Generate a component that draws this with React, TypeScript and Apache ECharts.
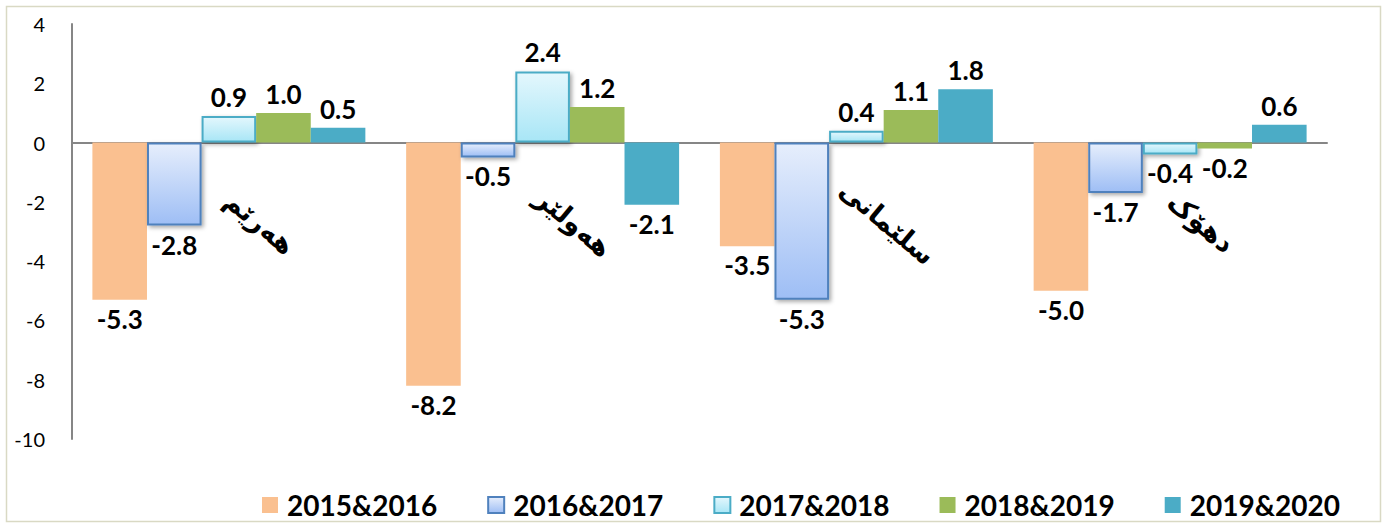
import React, { useEffect, useRef } from "react";
import * as echarts from "echarts";

const categories = ["هەرێم", "هەولێر", "سلێمانی", "دهۆک"];
const seriesNames = ["2015&2016", "2016&2017", "2017&2018", "2018&2019", "2019&2020"];
const v1516 = [-5.3, -8.2, -3.5, -5.0];
const v1617 = [-2.8, -0.5, -5.3, -1.7];
const v1718 = [0.9, 2.4, 0.4, -0.4];
const v1819 = [1.0, 1.2, 1.1, -0.2];
const v1920 = [0.5, -2.1, 1.8, 0.6];
const yMin = -10;
const yMax = 4;
const yStep = 2;

const seriesValues = [v1516, v1617, v1718, v1819, v1920];

const grad = (top: string, bottom: string) =>
  new echarts.graphic.LinearGradient(0, 0, 0, 1, [
    { offset: 0, color: top },
    { offset: 1, color: bottom },
  ]);

const styles: any[] = [
  { color: "#FAC090" },
  {
    color: grad("#E6EEFC", "#9EBEF5"),
    borderColor: "#4F81BD",
    borderWidth: 2,
    shadowColor: "rgba(0,0,0,0.35)",
    shadowBlur: 4,
    shadowOffsetX: 2,
    shadowOffsetY: 2,
  },
  {
    color: grad("#E4F7FD", "#A8E6F6"),
    borderColor: "#4BACC6",
    borderWidth: 2,
    shadowColor: "rgba(0,0,0,0.35)",
    shadowBlur: 4,
    shadowOffsetX: 2,
    shadowOffsetY: 2,
  },
  { color: "#9BBB59" },
  { color: "#4BACC6" },
];

export default function App() {
  const ref = useRef<HTMLDivElement>(null);
  useEffect(() => {
    if (!ref.current) return;
    const chart = echarts.init(ref.current, undefined, { renderer: "svg" });
    chart.setOption({
      animation: false,
      backgroundColor: "#ffffff",
      textStyle: { fontFamily: "Lato" },
      graphic: [
        {
          type: "rect",
          shape: { x: 6.5, y: 6.5, width: 1374, height: 515 },
          style: { fill: "none", stroke: "#D9D9C4", lineWidth: 1.5 },
          silent: true,
          z: -1,
        },
      ],
      grid: { left: 72, right: 60, top: 24, bottom: 89, outerBoundsMode: "none", containLabel: false },
      legend: {
        left: 262,
        top: 491,
        padding: 0,
        itemWidth: 16,
        itemHeight: 16,
        itemGap: 50,
        icon: "rect",
        textStyle: {
          fontFamily: "Lato",
          fontWeight: "bold",
          fontSize: 28,
          color: "#000",
          padding: [0, 0, 0, 4],
        },
        data: seriesNames,
      },
      xAxis: {
        type: "category",
        data: categories,
        axisLine: { onZero: true, lineStyle: { color: "#868686", width: 2 } },
        axisTick: { show: false },
        axisLabel: { show: false },
      },
      yAxis: {
        type: "value",
        min: yMin,
        max: yMax,
        interval: yStep,
        splitLine: { show: false },
        axisLine: { show: true, lineStyle: { color: "#868686", width: 2 } },
        axisTick: { show: false },
        axisLabel: { margin: 27, fontFamily: "Lato", fontSize: 20, color: "#000" },
      },
      series: [
        ...seriesNames.map((name, i) => ({
          name,
          type: "bar",
          barGap: "0%",
          barCategoryGap: "13%",
          itemStyle: styles[i],
          label: {
            show: true,
            fontFamily: "Lato",
            fontWeight: "bold",
            fontSize: 26,
            color: "#000",
            distance: 6,
            formatter: (p: any) => Number(p.value).toFixed(1),
          },
          data: seriesValues[i].map((v) => ({
            value: v,
            label: { position: v < 0 ? "bottom" : "top" },
          })),
        })),
        {
          type: "custom",
          name: "categoryLabels",
          silent: true,
          z: 10,
          data: categories.map((c, i) => [i, 0]),
          renderItem: (params: any, api: any) => {
            const p = api.coord([api.value(0), api.value(1)]);
            return {
              type: "text",
              x: p[0] + 31,
              y: p[1] + 80,
              rotation: (-40 * Math.PI) / 180,
              style: {
                text: categories[params.dataIndex],
                fontFamily: "DejaVu Sans",
                fontWeight: "bold",
                fontSize: 27,
                fill: "#000",
                align: "center",
                verticalAlign: "middle",
              },
            };
          },
        },
      ],
    });
    return () => chart.dispose();
  }, []);
  return (
    <div
      ref={ref}
      style={{ position: "fixed", left: 0, top: 0, width: 1387, height: 528 }}
    />
  );
}
